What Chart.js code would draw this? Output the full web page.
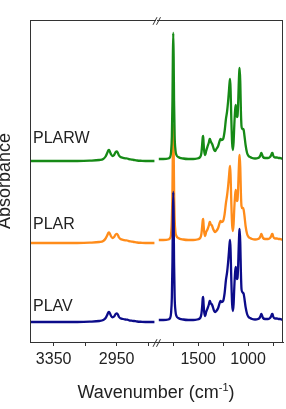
<!DOCTYPE html>
<html>
<head>
<meta charset="utf-8">
<script src="https://cdn.jsdelivr.net/npm/chart.js@4"></script>
<style>
body { margin:0; background:#fff; }
#wrap { position:relative; width:286px; height:409px; overflow:hidden; font-family: Arial, 'Liberation Sans', sans-serif; color:#222; }
canvas { position:absolute; top:0; }
.lbl { position:absolute; font-size:16px; line-height:16px; white-space:nowrap; }
#xt { position:absolute; left:0; width:312px; top:383px; text-align:center; font-size:18px; line-height:18px; white-space:nowrap; }
#xt sup { font-size:11px; vertical-align:7px; line-height:0; }
#yt { position:absolute; left:4px; top:181px; font-size:18px; line-height:18px; white-space:nowrap; transform:translate(-50%,-50%) rotate(-90deg); }
</style>
</head>
<body>
<div id="wrap">
  <canvas id="leftPanel" width="157" height="409" style="left:0"></canvas>
  <canvas id="rightPanel" width="140" height="409" style="left:146px"></canvas>
  <div class="lbl" style="left:33px;top:130px">PLARW</div>
  <div class="lbl" style="left:33px;top:216px">PLAR</div>
  <div class="lbl" style="left:33px;top:298px">PLAV</div>
  <div id="xt">Wavenumber (cm<sup>-1</sup>)</div>
  <div id="yt">Absorbance</div>
</div>
<script>
// samples, bottom to top
const names = ['PLAV', 'PLAR', 'PLARW'];
const colors = ['#0c0c8a', '#ff8c1a', '#168a16'];
const offsets = [0, 79, 161]; // vertical stacking (a.u.)

// C-H stretching region
const wnLeft = [3495, 3400, 3300, 3200, 3120, 3060, 3035, 3020, 3010, 3003, 2998, 2992, 2985, 2976, 2966, 2956, 2948, 2942, 2935, 2925, 2910, 2895, 2882, 2870, 2855, 2840, 2820, 2790, 2750, 2710];
const plavLeft  = [0, 0, 0, 0, 0.3, 1, 2, 4, 7, 9.5, 10, 8.5, 6, 4.7, 5.5, 8, 8.7, 7.5, 5, 3.7, 3, 2.5, 2.3, 1.6, 1.3, 1, 0.5, 0.2, 0, 0];
const plarLeft  = [0, 0, 0, 0, 0.3, 1, 2, 4.5, 7.5, 10, 10.5, 9, 6.5, 5, 6, 8.5, 9, 8, 5.5, 4, 3.2, 2.7, 2.5, 1.8, 1.4, 1, 0.5, 0.2, 0, 0];
const plarwLeft = [0, 0, 0, 0, 0.3, 1, 2, 4.5, 8, 10.5, 11, 9, 6.5, 5, 6, 9, 9.5, 8, 5.5, 4, 3.2, 2.7, 2.5, 1.8, 1.4, 1, 0.5, 0.2, 0, 0];

// fingerprint region
const wnRight = [1895, 1850, 1800, 1782, 1772, 1764, 1758, 1754, 1750, 1746, 1742, 1736, 1728, 1718, 1700, 1650, 1600, 1550, 1510, 1480,
  1468, 1460, 1454, 1450, 1446, 1440, 1430, 1420, 1405, 1392, 1386, 1382, 1376, 1366, 1360, 1350, 1340, 1330, 1318, 1300,
  1285, 1276, 1265, 1250, 1235, 1222, 1210, 1200, 1192, 1185, 1180, 1175, 1168, 1160, 1152, 1145, 1138, 1130, 1124, 1118,
  1112, 1106, 1100, 1094, 1088, 1084, 1078, 1072, 1066, 1058, 1050, 1044, 1036, 1025, 1010, 995, 980, 960, 930, 900,
  885, 875, 868, 862, 850, 830, 800, 780, 768, 760, 755, 750, 740, 725, 710, 695, 680, 665, 650];
const plavRight = [2, 2, 2.5, 4, 9, 25, 60, 105, 130, 105, 60, 25, 11, 6, 4, 2.5, 2, 2, 2.5, 4,
  8, 16, 24, 25, 18, 10, 6, 10, 14, 18, 21, 21, 19, 18, 17, 14, 11, 10, 11, 14,
  19, 21, 20, 21, 29, 42, 50, 60, 70, 79, 82, 70, 42, 18, 11, 18, 35, 50, 55, 50,
  43, 44, 55, 75, 90, 93, 78, 50, 33, 30, 29, 28, 23, 15, 8, 5, 4, 3, 2.5, 3,
  4, 6, 8, 7, 4, 3, 3, 4, 6, 8, 8, 6, 4, 3.5, 3.5, 3, 3, 2.5, 2.5];
const plarRight = [3, 3, 3.5, 5, 9, 24, 55, 96, 118, 96, 55, 24, 11, 7, 5, 3.5, 3, 3, 3.5, 5,
  9, 17, 23, 24, 18, 11, 7, 11, 14, 18, 21, 21, 19, 18, 17, 14, 12, 11, 12, 15,
  20, 22, 21, 22, 29, 40, 48, 57, 66, 74, 77, 66, 40, 18, 12, 19, 35, 48, 53, 48,
  42, 43, 54, 72, 85, 88, 75, 50, 37, 35, 35, 33, 27, 17, 9, 6, 5, 4, 3.5, 4,
  5, 7, 9, 8, 5, 4, 4, 5, 7, 9, 9, 7, 5, 4.5, 4.5, 4, 4, 3.5, 3.5];
const plarwRight = [2, 2, 2.5, 4, 9, 25, 60, 104, 128, 104, 60, 25, 11, 6, 4, 2.5, 2, 2, 2.5, 4,
  8, 17, 24, 25, 18, 10, 6, 10, 15, 19, 22, 22, 20, 18, 17, 14, 11, 10, 12, 15,
  20, 22, 21, 22, 30, 42, 50, 60, 70, 79, 82, 70, 42, 18, 11, 19, 36, 51, 56, 50,
  44, 45, 56, 76, 90, 93, 78, 50, 35, 32, 32, 31, 25, 16, 8, 5, 4, 3, 2.5, 3,
  4, 6, 8, 7, 4, 3, 3, 4, 6, 8, 8, 6, 4, 3.5, 3.5, 3, 3, 2.5, 2.5];

const ticksLeft = [3350, 3150, 2950, 2750];
const labelsLeft = [3350, 2950];
const ticksRight = [1750, 1500, 1250, 1000, 750];
const labelsRight = [1500, 1000];

const frameColor = '#333';

function seriesData(wn, vals, k) {
  return wn.map((w, j) => ({ x: w, y: vals[j] + offsets[k] }));
}

const framePlugin = {
  id: 'frame',
  afterDraw(chart, args, opts) {
    const { ctx, chartArea: a } = chart;
    ctx.save();
    ctx.strokeStyle = frameColor;
    ctx.lineWidth = 1;
    const top = Math.round(a.top) + 0.5;
    ctx.beginPath();
    ctx.moveTo(a.left, top);
    ctx.lineTo(a.right, top);
    if (opts.side === 'left') {
      const x = Math.round(a.left) + 0.5;
      ctx.moveTo(x, a.top);
      ctx.lineTo(x, a.bottom + 0.5);
    } else {
      const x = Math.round(a.right) - 0.5;
      ctx.moveTo(x, a.top);
      ctx.lineTo(x, a.bottom + 0.5);
      // break marks "//" on top and bottom edges
      [a.top + 1, a.bottom + 1].forEach(yc => {
        [-2, 1.5].forEach(dx => {
          const xc = a.left + dx;
          ctx.moveTo(xc - 2, yc + 3.8);
          ctx.lineTo(xc + 2, yc - 3.8);
        });
      });
    }
    ctx.stroke();
    ctx.restore();
  }
};

function makePanel(id, wn, sets, xmin, xmax, tickVals, labelVals, pad, side) {
  return new Chart(document.getElementById(id), {
    type: 'line',
    data: {
      datasets: sets.map((vals, k) => ({
        label: names[k],
        data: seriesData(wn, vals, k),
        borderColor: colors[k],
        borderWidth: 2.3,
        pointRadius: 0,
        cubicInterpolationMode: 'monotone',
        order: k === 1 ? 2 : 1
      }))
    },
    options: {
      responsive: false,
      animation: false,
      layout: { padding: pad },
      plugins: { legend: { display: false }, tooltip: { enabled: false }, frame: { side } },
      scales: {
        x: {
          type: 'linear',
          reverse: true,
          min: xmin,
          max: xmax,
          afterBuildTicks: s => { s.ticks = tickVals.map(v => ({ value: v })); },
          afterFit: s => { s.height = 67; },
          ticks: {
            autoSkip: false,
            maxRotation: 0,
            padding: 4,
            color: '#222',
            font: { family: "Arial, 'Liberation Sans', sans-serif", size: 16 },
            callback: v => labelVals.includes(v) ? String(v) : ''
          },
          grid: { drawOnChartArea: false, drawTicks: true, tickLength: 4, color: frameColor },
          border: { display: true, color: frameColor, width: 1 }
        },
        y: { display: false, min: -20, max: 302 }
      }
    },
    plugins: [framePlugin]
  });
}

makePanel('leftPanel', wnLeft, [plavLeft, plarLeft, plarwLeft], 2700, 3500,
  ticksLeft, labelsLeft, { left: 30, right: 1, top: 20, bottom: 0 }, 'left');
makePanel('rightPanel', wnRight, [plavRight, plarRight, plarwRight], 650, 1913,
  ticksRight, labelsRight, { left: 11, right: 3, top: 20, bottom: 0 }, 'right');
</script>
</body>
</html>
